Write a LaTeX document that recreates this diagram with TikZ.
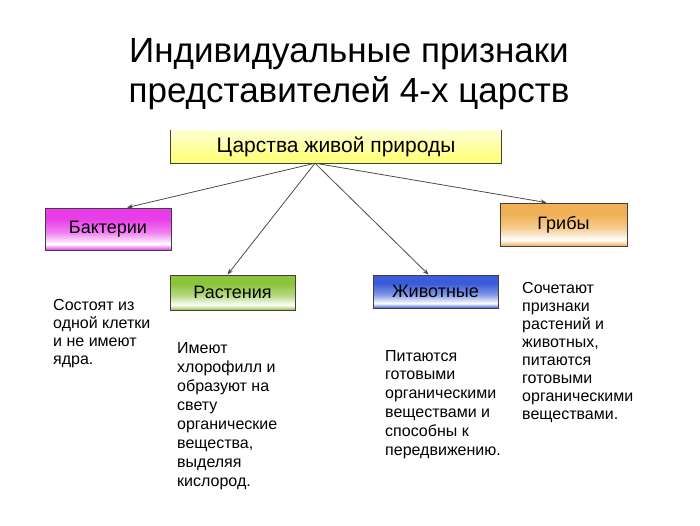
\documentclass[tikz,border=0pt]{standalone}
\usepackage{fontspec}
\setmainfont{Liberation Sans}
\usetikzlibrary{arrows.meta}

\definecolor{bactcol}{HTML}{E83DE8}
\definecolor{plantcol}{HTML}{8CC43C}
\definecolor{animcol}{HTML}{3A5CD8}
\definecolor{fungcol}{HTML}{F0B055}
\definecolor{topcol}{HTML}{FFFF70}
\colorlet{kcol}{white}

% mirrored gradient of the kingdom boxes
\pgfdeclareverticalshading[kcol]{kgrad}{100bp}{color(0bp)=(kcol); color(25bp)=(kcol); color(32bp)=(white); color(46bp)=(kcol!65); color(62bp)=(kcol); color(100bp)=(kcol)}

\begin{document}
\begin{tikzpicture}[
  x=1pt, y=-1pt,
  font=\fontsize{18}{21}\selectfont,
  box/.style={draw=black!75, line width=0.8pt, minimum width=125pt, inner sep=2pt},
  kfill/.style={shade, shading=kgrad, /utils/exec={\colorlet{kcol}{#1}}},
  arrow/.style={draw=black!70, line width=0.8pt, -{Stealth[length=6pt, width=4.5pt]}},
  note/.style={anchor=base west, align=left, inner sep=0pt},
]
\useasboundingbox (0,0) rectangle (700,525);

% base anchor = baseline of the last line
\node[align=center, anchor=base, font=\fontsize{35}{40}\selectfont] (title) at (349,102)
  {Индивидуальные признаки\\представителей 4-х царств};

\node[top color=topcol!30, bottom color=topcol, minimum width=330pt, minimum height=33pt,
  font=\fontsize{21}{24}\selectfont] (top) at (336,146.5) {Царства живой природы};
\draw[black!75, line width=0.8pt] (top.north west) |- (top.south east) -- (top.north east);

\node[box, kfill=bactcol, minimum width=126pt, minimum height=42pt] (bact) at (108,229) {Бактерии};
\node[box, kfill=plantcol, minimum height=35pt] (plant) at (232.5,292.5) {Растения};
\node[box, kfill=animcol, minimum height=33pt] (anim) at (435.5,291.5) {Животные};
\node[box, kfill=fungcol, minimum width=127pt, minimum height=43pt] (fung) at (563.5,224.5) {Грибы};

\coordinate (hub) at ([xshift=-21pt]top.south);
\draw[arrow] (hub) -- ([xshift=19pt]bact.north);
\draw[arrow] (hub) -- ([xshift=-5pt]plant.north);
\draw[arrow] (hub) -- ([xshift=-7pt]anim.north);
\draw[arrow] (hub) -- ([xshift=-17pt]fung.north);

\node[note, font=\fontsize{16}{17.7}\selectfont] (bactnote) at (53,364)
  {Состоят из\\одной клетки\\и не имеют\\ядра.};
\node[note, font=\fontsize{16}{18.9}\selectfont] (plantnote) at (177,486)
  {Имеют\\хлорофилл и\\образуют на\\свету\\органические\\вещества,\\выделяя\\кислород.};
\node[note, font=\fontsize{16}{18.8}\selectfont] (animnote) at (385,455)
  {Питаются\\готовыми\\органическими\\веществами и\\способны к\\передвижению.};
\node[note, font=\fontsize{16}{17.9}\selectfont] (fungnote) at (522,419)
  {Сочетают\\признаки\\растений и\\животных,\\питаются\\готовыми\\органическими\\веществами.};
\end{tikzpicture}
\end{document}
